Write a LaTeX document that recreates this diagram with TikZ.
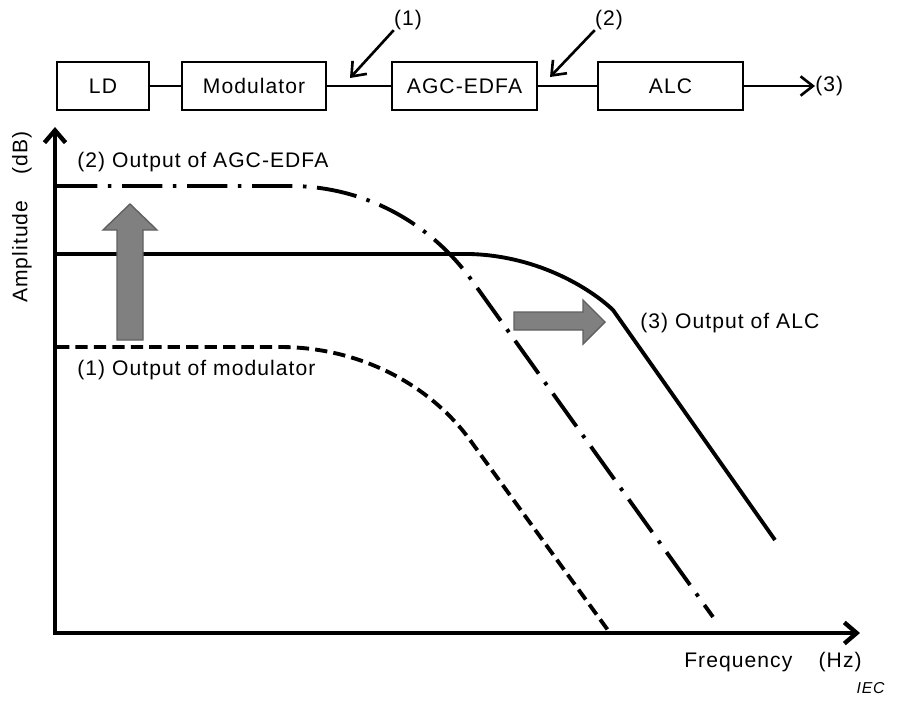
\documentclass[tikz,border=0pt]{standalone}
\usepackage{fontspec}
\setmainfont[LetterSpace=5]{Liberation Sans}
\usetikzlibrary{arrows.meta}

\begin{document}
\begin{tikzpicture}[x=0.02cm,y=-0.02cm,
        blk/.style={draw, line width=1.5pt, minimum height=0.96cm, inner sep=0pt, font=\fontsize{12}{14}\selectfont},
        lbl/.style={inner sep=0pt, font=\fontsize{12}{14}\selectfont},
        wire/.style={line width=1.2pt},
        ptr/.style={line width=1.5pt, -{Straight Barb[length=7pt,width=11pt]}},
        axis/.style={line width=2.5pt, {Straight Barb[length=7pt,width=12pt]}-{Straight Barb[length=7pt,width=12pt]}},
        curve/.style={line width=2.2pt},
        bigarrow/.style={fill=gray, draw=gray!75!black, line width=0.8pt}]
        \useasboundingbox (0,0) rectangle (898,707);
        % block chain
        \node[blk, minimum width=1.84cm] (ld) at (103,86) {LD};
        \node[blk, minimum width=2.88cm] (mod) at (254,86) {Modulator};
        \node[blk, minimum width=2.90cm] (edfa) at (464.5,86) {AGC-EDFA};
        \node[blk, minimum width=2.90cm] (alc) at (670.5,86) {ALC};
        \draw[wire] (ld) -- (mod);
        \draw[wire] (mod) -- (edfa);
        \draw[wire] (edfa) -- (alc);
        \node[lbl, anchor=west] (o3) at (815,86) {(3)};
        \draw[ptr] (alc.east) -- (o3.west);
        % measuring points
        \node[lbl] (p1) at (408,20) {(1)};
        \coordinate (t1) at (350,78);
        \draw[ptr] (p1.south west) -- (t1);
        \node[lbl] (p2) at (609,20) {(2)};
        \coordinate (t2) at (550,77);
        \draw[ptr] (p2.south west) -- (t2);
        % axes
        \coordinate (org) at (55,633);
        \coordinate (ytop) at (55,127);
        \coordinate (xend) at (860,633);
        \draw[axis] (ytop) -- (org) -- (xend);
        \node[lbl, rotate=90] (yl) at (22,217) {Amplitude\hspace{15pt}(dB)};
        \node[lbl, anchor=east] (xl) at (862,662) {Frequency\hspace{15pt}(Hz)};
        % responses
        \draw[curve, dash pattern=on 23pt off 6pt on 2pt off 6pt] (57,186) -- (290,186)
            .. controls (360,186) and (428,219) .. (473,282) -- (713,617);
        \draw[curve] (57,254) -- (470,254)
            .. controls (540,256) and (592,290) .. (613,310) -- (775,540);
        \draw[curve, dash pattern=on 7pt off 3.5pt] (57,347) -- (280,347)
            .. controls (360,347) and (430,385) .. (470,440) -- (610,633);
        \node[lbl, anchor=west] (l2) at (77,162) {(2) Output of AGC-EDFA};
        \node[lbl, anchor=west] (l1) at (77,370) {(1) Output of modulator};
        \node[lbl, anchor=west] (l3) at (640,323) {(3) Output of ALC};
        % gain arrows
        \draw[bigarrow] (117,340) -- (117,230) -- (103,230) -- (130,204) -- (157,230) -- (143,230) -- (143,340) -- cycle;
        \draw[bigarrow] (514,312) -- (583,312) -- (583,300) -- (605,322) -- (583,344) -- (583,330) -- (514,330) -- cycle;
        \node[anchor=east, inner sep=0pt, font=\fontsize{9}{10}\selectfont\itshape] (iec) at (885,688) {IEC};
    \end{tikzpicture}
\end{document}
